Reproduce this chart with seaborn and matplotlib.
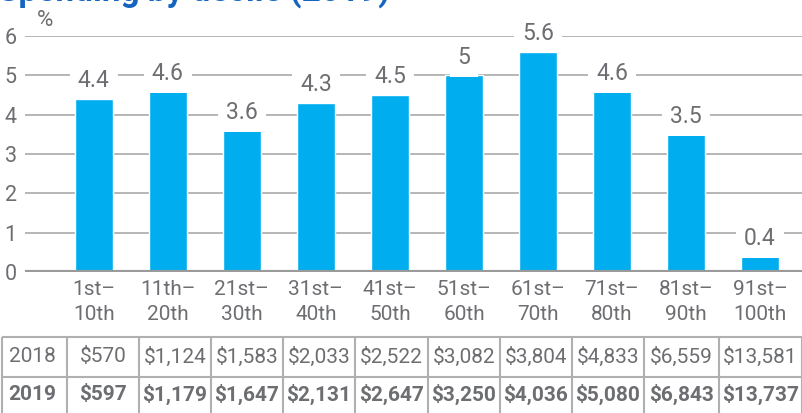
import matplotlib
matplotlib.use("Agg")
import matplotlib.pyplot as plt
import seaborn as sns
import pandas as pd
from matplotlib import font_manager

# ---- data ----
deciles = ["1st–\n10th", "11th–\n20th", "21st–\n30th", "31st–\n40th", "41st–\n50th",
           "51st–\n60th", "61st–\n70th", "71st–\n80th", "81st–\n90th", "91st–\n100th"]
pct_values = [4.4, 4.6, 3.6, 4.3, 4.5, 5.0, 5.6, 4.6, 3.5, 0.4]
value_labels = ["4.4", "4.6", "3.6", "4.3", "4.5", "5", "5.6", "4.6", "3.5", "0.4"]
y_ticks = [0, 1, 2, 3, 4, 5, 6]
row_years = ["2018", "2019"]
amounts_2018 = ["$570", "$1,124", "$1,583", "$2,033", "$2,522", "$3,082", "$3,804", "$4,833", "$6,559", "$13,581"]
amounts_2019 = ["$597", "$1,179", "$1,647", "$2,131", "$2,647", "$3,250", "$4,036", "$5,080", "$6,843", "$13,737"]
title_text = "Spending by decile (2019)"

sns.set_theme(style="white")
installed = {f.name for f in font_manager.fontManager.ttflist}
fam = "Liberation Sans Narrow" if "Liberation Sans Narrow" in installed else "Roboto"
plt.rcParams["font.family"] = [fam, "DejaVu Sans"]

GRAY = "#6d6e71"
BAR = "#00aeef"
GRID = "#b0b0b0"
W, H = 803, 413

fig = plt.figure(figsize=(W / 100, H / 100), dpi=100)

# overlay axes in pixel coordinates for table and title
ov = fig.add_axes([0, 0, 1, 1], zorder=0)
ov.set_xlim(0, W)
ov.set_ylim(H, 0)
ov.axis("off")

ax = fig.add_axes([25 / W, 1 - 272 / H, 778 / W, 236 / H], zorder=1)
ax.patch.set_alpha(0)
df = pd.DataFrame({"decile": deciles, "pct": pct_values})
sns.barplot(data=df, x="decile", y="pct", color=BAR, saturation=1, width=0.51, ax=ax, zorder=3)
ax.set_xlim(-0.93, 9.58)
ax.set_ylim(0, 6)
ax.set_yticks(y_ticks)
ax.set_yticklabels([str(t) for t in y_ticks])
ax.yaxis.grid(True, color=GRID, lw=1.3)
ax.set_axisbelow(True)
ax.axhline(0, color="#9a9a9a", lw=3, zorder=4)
for s in ax.spines.values():
    s.set_visible(False)
ax.set_xlabel("")
ax.set_ylabel("")
ax.tick_params(axis="y", length=0, pad=6, labelsize=15.5, labelcolor=GRAY)
ax.tick_params(axis="x", length=0, pad=6, labelsize=15, labelcolor=GRAY)
for lbl in ax.get_xticklabels():
    lbl.set_linespacing(1.4)

for i, (v, t) in enumerate(zip(pct_values, value_labels)):
    ax.annotate(t, (i, v), xytext=(0, 13), textcoords="offset points",
                ha="center", va="center", fontsize=16.5, color=GRAY, zorder=5,
                bbox=dict(boxstyle="square,pad=0.35", fc="white", ec="none"))

fig.text(45 / W, 1 - 21 / H, "%", ha="center", va="center", fontsize=16, color=GRAY)

# title (cropped at top like the reference)
ov.text(-2, 1, title_text, ha="left", va="baseline", fontsize=24, fontweight="bold",
        color="#1565c0", clip_on=False)

# table
col_edges = [2, 67, 139, 211, 283, 355, 428, 500, 572, 644, 719, 802]
row_edges = [337, 377, 416]
ov.hlines(row_edges, col_edges[0], col_edges[-1], color=GRID, lw=1.5)
ov.vlines(col_edges, row_edges[0], row_edges[-1], color=GRID, lw=1.5)
rows = [amounts_2018, amounts_2019]
for r, (year, amounts) in enumerate(zip(row_years, rows)):
    yc = (row_edges[r] + row_edges[r + 1]) / 2 + (0 if r == 0 else -2)
    weight = "bold" if r == 1 else "normal"
    ov.text((col_edges[0] + col_edges[1]) / 2 - 2, yc, year, ha="center", va="center",
            fontsize=15, color=GRAY, fontweight=weight)
    for c, a in enumerate(amounts):
        xc = (col_edges[c + 1] + col_edges[c + 2]) / 2
        ov.text(xc, yc, a, ha="center", va="center", fontsize=15, color=GRAY, fontweight=weight)

fig.savefig("out.png", dpi=100)
